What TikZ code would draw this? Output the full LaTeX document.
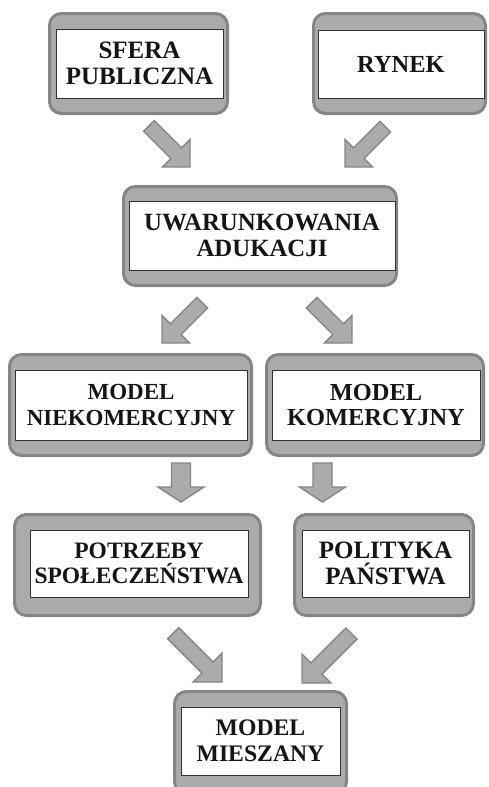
\documentclass[tikz,border=0pt]{standalone}
\usepackage{fontspec}
\setmainfont{Liberation Serif}
\begin{document}
\begin{tikzpicture}[x=1pt,y=-1pt,
  outerbox/.style={draw=boxedge,fill=boxfill,line width=3pt,rounded corners=12pt,inner sep=0pt},
  innerbox/.style={draw=innerline,fill=white,line width=0.9pt,inner sep=0pt,align=center,
     font=\fontsize{#1}{25.5}\selectfont\bfseries,text=textcol},
  innerbox/.default=24.5,
  arrowsty/.style={draw=boxedge,fill=boxfill,line width=1.4pt,line join=miter}]
\definecolor{boxfill}{HTML}{ABABAB}
\definecolor{boxedge}{HTML}{858585}
\definecolor{innerline}{HTML}{333333}
\definecolor{textcol}{HTML}{151515}
\useasboundingbox (0,0) rectangle (488,787);
\newcommand\barrow[6]{%
  \begin{scope}[shift={(#1)},rotate=#2]
  \draw[arrowsty] (0,0) -- (-#6,#5) -- (-#6,#4) -- (-#3,#4) -- (-#3,-#4) -- (-#6,-#4) -- (-#6,-#5) -- cycle;
  \end{scope}}
% Boxes
\node[outerbox,minimum width=178pt,minimum height=100pt] (sferao) at (138.5,63.5) {};
\node[innerbox=25,minimum width=167pt,minimum height=69pt] (sfera) at (139.5,63.5) {SFERA\\PUBLICZNA};
\node[outerbox,minimum width=172pt,minimum height=100pt] (rynko) at (399.5,63.5) {};
\node[innerbox=24.5,minimum width=166pt,minimum height=68pt] (rynek) at (401,64) {RYNEK};
\node[outerbox,minimum width=273pt,minimum height=99pt] (uwao) at (260,236) {};
\node[innerbox=24.8,minimum width=266pt,minimum height=69pt] (uwa) at (262,235.5) {UWARUNKOWANIA\\ADUKACJI};
\node[outerbox,minimum width=242pt,minimum height=101pt] (nkomo) at (130.5,405) {};
\node[innerbox=23,minimum width=232pt,minimum height=70pt] (nkom) at (131,405) {MODEL\\NIEKOMERCYJNY};
\node[outerbox,minimum width=217pt,minimum height=101pt] (komo) at (375,405) {};
\node[innerbox=24.4,minimum width=208pt,minimum height=70pt] (kom) at (376,405) {MODEL\\KOMERCYJNY};
\node[outerbox,minimum width=246pt,minimum height=101pt] (potro) at (137.5,565) {};
\node[innerbox=23.5,minimum width=218pt,minimum height=67pt] (potr) at (139,563.5) {POTRZEBY\\SPOŁECZEŃSTWA};
\node[outerbox,minimum width=179pt,minimum height=101pt] (polo) at (384,565) {};
\node[innerbox=25,minimum width=167pt,minimum height=67pt] (pol) at (385.5,563.5) {POLITYKA\\PAŃSTWA};
\node[outerbox,minimum width=172pt,minimum height=102pt] (mieso) at (260.5,742.5) {};
\node[innerbox=23.7,minimum width=159pt,minimum height=68pt] (mies) at (260.5,741) {MODEL\\MIESZANY};
% Arrow tips
\coordinate (t1) at (190,167);
\coordinate (t2) at (345,167);
\coordinate (t3) at (162,343);
\coordinate (t4) at (352,343);
\coordinate (t5) at (181,502);
\coordinate (t6) at (322.5,502);
\coordinate (t7) at (222,682);
\coordinate (t8) at (302,683);
% tip, angle, length, shaft half, head half, head length
\barrow{t1}{-45}{58}{7.6}{19.5}{19.5}
\barrow{t2}{-135}{57}{7.6}{19.5}{19.5}
\barrow{t3}{-135}{57}{7.6}{19.5}{19.5}
\barrow{t4}{-45}{57}{7.6}{19.5}{19.5}
\barrow{t5}{-90}{39}{9.5}{23}{15}
\barrow{t6}{-90}{39}{9.5}{23}{15}
\barrow{t7}{-45}{69}{7.8}{20.5}{20.5}
\barrow{t8}{-135}{70}{7.8}{20.5}{20.5}
\end{tikzpicture}
\end{document}
